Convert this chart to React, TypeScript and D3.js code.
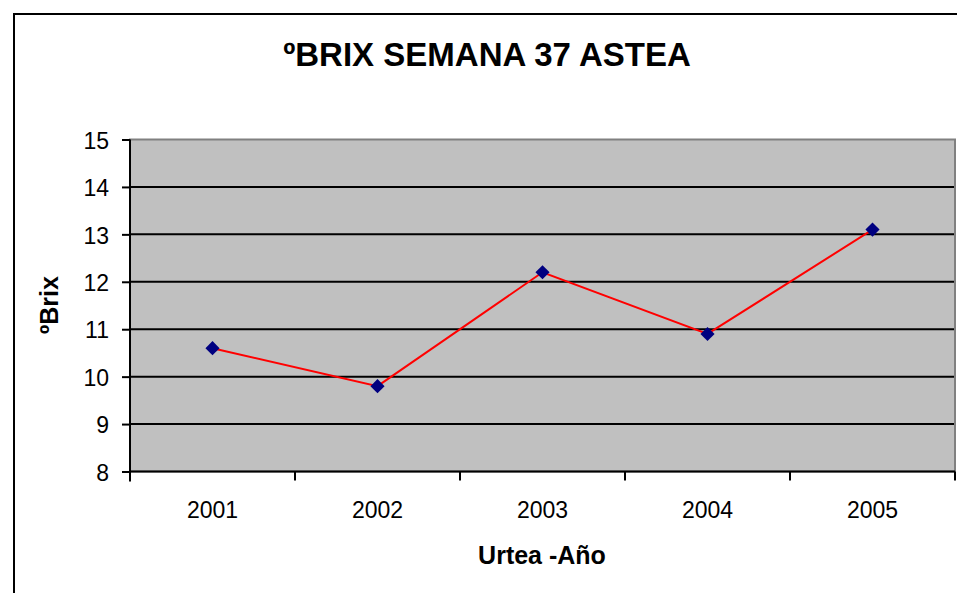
import * as d3 from 'd3';
import React, { useEffect, useRef } from 'react';

const years = ['2001', '2002', '2003', '2004', '2005'];
const brix = [10.6, 9.8, 12.2, 10.9, 13.1];
const yTicks = [8, 9, 10, 11, 12, 13, 14, 15];

const W = 957;
const H = 593;
const FONT = 'Liberation Sans, Arial, sans-serif';

const App: React.FC = () => {
    const svgRef = useRef<SVGSVGElement | null>(null);

    useEffect(() => {
        if (!svgRef.current) return;
        const svg = d3.select(svgRef.current);
        svg.selectAll('*').remove();

        const left = 130;
        const right = 955;
        const top = 139.5;
        const bottom = 471.5;

        const x = d3.scaleBand().domain(years).range([left, right]);
        const y = d3.scaleLinear().domain([8, 15]).range([bottom, top]);

        // chart frame
        svg.append('rect')
            .attr('x', 14)
            .attr('y', 14)
            .attr('width', W)
            .attr('height', H)
            .attr('fill', 'white')
            .attr('stroke', 'black')
            .attr('stroke-width', 2);

        svg.append('text')
            .attr('x', 487)
            .attr('y', 66)
            .attr('text-anchor', 'middle')
            .attr('font-family', FONT)
            .attr('font-weight', 'bold')
            .attr('font-size', 33)
            .text('ºBRIX SEMANA 37 ASTEA');

        // plot area
        svg.append('rect')
            .attr('x', left)
            .attr('y', top)
            .attr('width', right - left)
            .attr('height', bottom - top)
            .attr('fill', '#c0c0c0')
            .attr('stroke', '#808080')
            .attr('stroke-width', 2);

        // gridlines
        svg.append('g')
            .selectAll('line')
            .data(yTicks.filter((t) => t > 8 && t < 15))
            .join('line')
            .attr('x1', left)
            .attr('x2', right - 1)
            .attr('y1', (d) => y(d))
            .attr('y2', (d) => y(d))
            .attr('stroke', 'black')
            .attr('stroke-width', 2);

        // y axis
        const yAxis = svg
            .append('g')
            .attr('transform', `translate(${left},0)`)
            .call(
                d3
                    .axisLeft(y)
                    .tickValues(yTicks)
                    .tickFormat(d3.format('d'))
                    .tickSize(8)
                    .tickPadding(13),
            );
        yAxis.select('.domain').attr('stroke-width', 2).attr('d', `M0,${top}V${bottom + 10}`);
        yAxis.selectAll('line').attr('stroke-width', 2);
        yAxis
            .selectAll('text')
            .attr('font-family', FONT)
            .attr('font-size', 23)
            .attr('dy', '0.38em')
            .attr('fill', 'black');

        // x axis
        const xAxis = svg
            .append('g')
            .attr('transform', `translate(0,${bottom})`)
            .call(d3.axisBottom(x).tickSize(0).tickPadding(30));
        xAxis.select('.domain').attr('stroke-width', 2).attr('d', `M${left},0H${right}`);
        xAxis
            .selectAll('text')
            .attr('font-family', FONT)
            .attr('font-size', 23)
            .attr('fill', 'black');

        svg.append('g')
            .selectAll('line')
            .data(years.map((yr) => x(yr) as number).concat([right]))
            .join('line')
            .attr('x1', (d) => d)
            .attr('x2', (d) => d)
            .attr('y1', bottom)
            .attr('y2', bottom + 9)
            .attr('stroke', 'black')
            .attr('stroke-width', 2);

        // axis titles
        svg.append('text')
            .attr('x', 542)
            .attr('y', 564)
            .attr('text-anchor', 'middle')
            .attr('font-family', FONT)
            .attr('font-weight', 'bold')
            .attr('font-size', 25)
            .text('Urtea -Año');

        svg.append('text')
            .attr('transform', `translate(58,305) rotate(-90)`)
            .attr('text-anchor', 'middle')
            .attr('font-family', FONT)
            .attr('font-weight', 'bold')
            .attr('font-size', 25)
            .text('ºBrix');

        // series
        const cx = (d: string) => (x(d) as number) + x.bandwidth() / 2;
        const line = d3
            .line<number>()
            .x((_, i) => cx(years[i]))
            .y((d) => y(d));

        svg.append('path')
            .datum(brix)
            .attr('d', line)
            .attr('fill', 'none')
            .attr('stroke', '#ff0000')
            .attr('stroke-width', 2);

        svg.append('g')
            .selectAll('path')
            .data(brix)
            .join('path')
            .attr('d', d3.symbol(d3.symbolSquare, 100)())
            .attr('transform', (d, i) => `translate(${cx(years[i])},${y(d)}) rotate(45)`)
            .attr('fill', '#000080');
    }, []);

    return (
        <svg
            ref={svgRef}
            width={W}
            height={H}
            style={{ position: 'absolute', left: 0, top: 0, background: 'white' }}
        />
    );
};

export default App;
